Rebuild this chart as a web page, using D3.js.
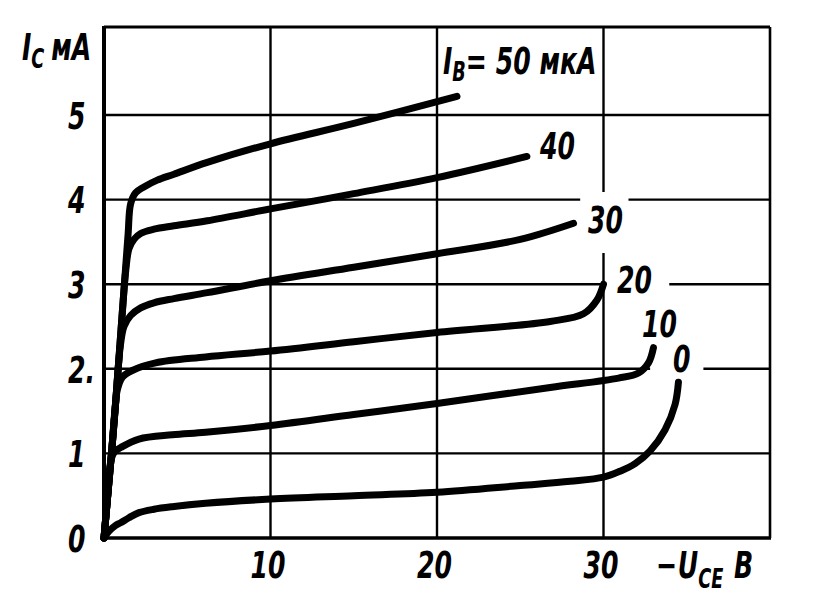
<!DOCTYPE html>
<html>
<head>
<meta charset="utf-8">
<script src="https://cdn.jsdelivr.net/npm/d3@7"></script>
<style>
  html, body { margin: 0; padding: 0; background: #fff; }
  svg { display: block; }
  .lbl { font-family: "DejaVu Sans", "Liberation Sans", sans-serif; font-weight: bold; font-style: italic; fill: #000; }
</style>
</head>
<body>
<svg id="chart" width="816" height="607"></svg>
<script>
// ---- data ----
const xTicks = [10, 20, 30];
const xTickLabels = ["10", "20", "30"];
const yTicks = [0, 1, 2, 3, 4, 5];
const yTickLabels = ["0", "1", "2.", "3", "4", "5"];
const curveLabels = ["0", "10", "20", "30", "40", "50"];

const ib0  = [[0,0],[0.3,0.08],[0.7,0.15],[1.0,0.18],[1.5,0.24],[2.1,0.3],[3,0.34],[4.1,0.37],[6.1,0.41],[10,0.46],[15,0.5],[20,0.54],[25,0.62],[28,0.67],[30,0.72],[31,0.79],[31.9,0.88],[32.8,1.03],[33.7,1.28],[34.3,1.58],[34.5,1.84]];
const ib10 = [[0,0],[0.2,0.45],[0.4,0.9],[0.6,1.01],[1.1,1.08],[2.1,1.17],[4.1,1.22],[6.1,1.25],[10,1.33],[15,1.46],[20,1.59],[26.8,1.78],[30.9,1.89],[32.1,1.95],[32.7,2.07],[33.0,2.25]];
const ib20 = [[0,0],[0.2,0.45],[0.45,1.0],[0.65,1.5],[0.8,1.75],[1.1,1.9],[1.7,1.98],[3.1,2.07],[6.1,2.14],[10,2.21],[15,2.32],[20,2.43],[26.8,2.56],[28.8,2.65],[29.6,2.81],[30,3.0]];
const ib30 = [[0,0],[0.2,0.45],[0.45,1.0],[0.7,1.6],[0.85,2.0],[1.0,2.3],[1.2,2.5],[1.6,2.63],[2.2,2.72],[3,2.78],[4.2,2.83],[6.2,2.9],[10,3.04],[15,3.2],[20,3.36],[25,3.53],[28.2,3.72]];
const ib40 = [[0,0],[0.2,0.45],[0.45,1.0],[0.7,1.6],[0.85,2.0],[1.0,2.4],[1.15,2.8],[1.3,3.15],[1.5,3.42],[1.8,3.53],[2.2,3.6],[3,3.65],[4.2,3.69],[6.2,3.75],[10,3.89],[15,4.07],[20,4.26],[25.4,4.51]];
const ib50 = [[0,0],[0.2,0.45],[0.45,1.0],[0.7,1.6],[0.85,2.0],[1.0,2.4],[1.15,2.8],[1.3,3.2],[1.45,3.6],[1.6,3.95],[1.9,4.08],[2.4,4.15],[3.2,4.23],[4.2,4.3],[6.2,4.44],[10,4.66],[15,4.9],[21.2,5.22]];
const series = [ib0, ib10, ib20, ib30, ib40, ib50];

// ---- scales ----
const x = d3.scaleLinear().domain([0, 40]).range([104, 770]);
const y = d3.scaleLinear().domain([0, 5]).range([538, 115]);
const yTop = 6.04;
const SX = 0.68; // horizontal squeeze to mimic the condensed lettering

const svg = d3.select("#chart");

// ---- grid ----
const grid = svg.append("g").attr("stroke", "#000").attr("fill", "none");
const hGaps = {2: [32.8, 36.0], 3: [30.0, 33.95], 4: [28.6, 31.5]};
[1, 2, 3, 4, 5].forEach(v => {
  const segs = hGaps[v] ? [[0, hGaps[v][0]], [hGaps[v][1], 40]] : [[0, 40]];
  segs.forEach(s => grid.append("line")
    .attr("x1", x(s[0])).attr("x2", x(s[1]))
    .attr("y1", y(v)).attr("y2", y(v))
    .attr("stroke-width", 2.4));
});
const vGaps = {30: [3.37, 4.09]};
xTicks.forEach(v => {
  const segs = vGaps[v] ? [[0, vGaps[v][0]], [vGaps[v][1], yTop]] : [[0, yTop]];
  segs.forEach(s => grid.append("line")
    .attr("x1", x(v)).attr("x2", x(v))
    .attr("y1", y(s[0])).attr("y2", y(s[1]))
    .attr("stroke-width", 2.4));
});
grid.append("line").attr("x1", x(0)).attr("x2", x(40)).attr("y1", y(yTop)).attr("y2", y(yTop)).attr("stroke-width", 3);
grid.append("line").attr("x1", x(40)).attr("x2", x(40)).attr("y1", y(yTop)).attr("y2", y(0)).attr("stroke-width", 2.6);
grid.append("line").attr("x1", x(0) - 1).attr("x2", x(40) + 1).attr("y1", y(0)).attr("y2", y(0)).attr("stroke-width", 3.4);
grid.append("line").attr("x1", x(0)).attr("x2", x(0)).attr("y1", y(yTop) - 1).attr("y2", y(0) + 1.5).attr("stroke-width", 4);

// ---- curves ----
const line = d3.line().x(d => x(d[0])).y(d => y(d[1])).curve(d3.curveCatmullRom.alpha(0.5));
svg.append("g").selectAll("path").data(series).join("path")
  .attr("d", line)
  .attr("fill", "none").attr("stroke", "#000")
  .attr("stroke-width", 7).attr("stroke-linecap", "round").attr("stroke-linejoin", "round");

// ---- axes (labels only) ----
const yAxis = d3.axisLeft(y).tickValues(yTicks).tickSize(0).tickPadding(0)
  .tickFormat((d, i) => yTickLabels[i]);
const gy = svg.append("g").attr("transform", "translate(68,0)").call(yAxis);
gy.select(".domain").remove();
gy.selectAll("text").attr("class", "lbl").attr("font-size", 37).attr("text-anchor", "start")
  .attr("x", 0).attr("dy", "0.36em").attr("transform", `scale(${SX},1)`);

const xAxis = d3.axisBottom(x).tickValues(xTicks).tickSize(0).tickPadding(0)
  .tickFormat((d, i) => xTickLabels[i]);
const gx = svg.append("g").attr("transform", "translate(-3,0)").call(xAxis);
gx.select(".domain").remove();
gx.selectAll("text").attr("class", "lbl").attr("font-size", 37)
  .attr("y", 578).attr("dy", 0).attr("transform", `scale(${SX},1)`);

// helper for squeezed free text
function label(px, py) {
  return svg.append("text").attr("class", "lbl").attr("font-size", 37)
    .attr("transform", `translate(${px},${py}) scale(${SX},1)`);
}

// ---- axis titles ----
const t1 = label(22, 60);
t1.append("tspan").text("I");
t1.append("tspan").attr("font-size", 26).attr("dy", 8).text("C");
t1.append("tspan").attr("dy", -8).attr("dx", 10).text("мА");

const t2 = label(656, 578);
t2.append("tspan").text("−");
t2.append("tspan").attr("dx", 1).text("U");
t2.append("tspan").attr("font-size", 26).attr("dy", 10).text("CE");
t2.append("tspan").attr("dy", -10).attr("dx", 16).text("В");

// ---- curve labels ----
const lblPos = [[673, 372], [642, 337], [617, 293], [588, 233], [540, 159]];
lblPos.forEach((p, i) => label(p[0], p[1]).text(curveLabels[i]));

const t3 = label(443, 74);
t3.append("tspan").text("I");
t3.append("tspan").attr("font-size", 26).attr("dy", 7).text("B");
t3.append("tspan").attr("dy", -7).text("= " + curveLabels[5] + " мкА");
</script>
</body>
</html>
